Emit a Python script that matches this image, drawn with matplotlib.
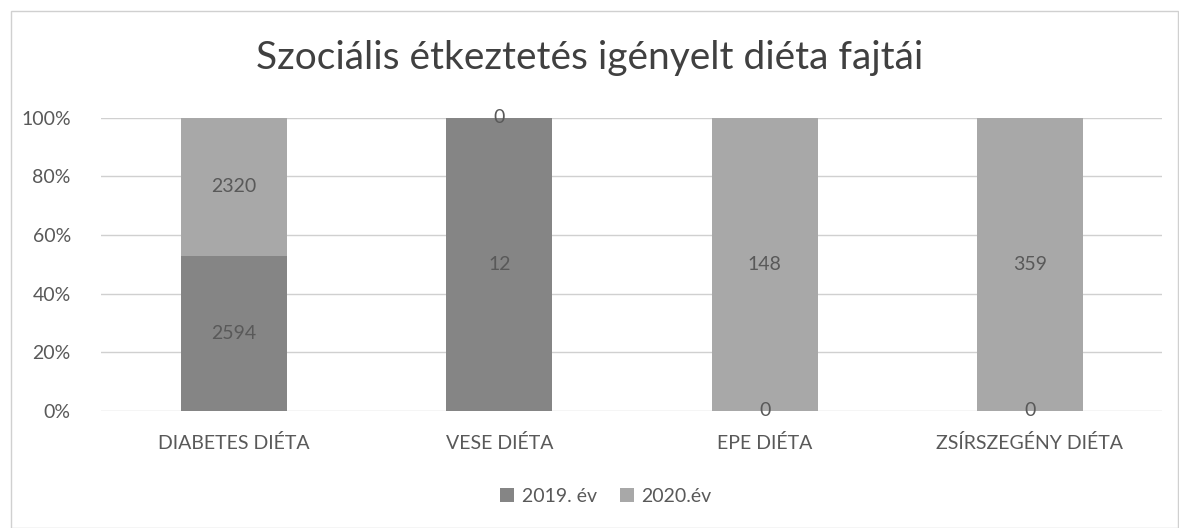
import numpy as np
import matplotlib.pyplot as plt
from matplotlib.patches import Rectangle

categories = ['DIABETES DIÉTA', 'VESE DIÉTA', 'EPE DIÉTA', 'ZSÍRSZEGÉNY DIÉTA']
series_names = ['2019. év', '2020.év']
vals_2019 = np.array([2594, 12, 0, 0])
vals_2020 = np.array([2320, 0, 148, 359])

col_2019 = '#858585'
col_2020 = '#a8a8a8'
txt = '#595959'

plt.rcParams['font.family'] = ['Lato', 'DejaVu Sans']

total = vals_2019 + vals_2020
p19 = vals_2019 / total * 100
p20 = vals_2020 / total * 100

fig = plt.figure(figsize=(11.79, 5.28), dpi=100)
ax = fig.add_axes([0.086, 0.222, 0.900, 0.555])

x = np.arange(len(categories))
b1 = ax.bar(x, p19, width=0.4, color=col_2019, label=series_names[0], zorder=2)
b2 = ax.bar(x, p20, width=0.4, bottom=p19, color=col_2020, label=series_names[1], zorder=2)

for i in range(len(categories)):
    ax.text(x[i], p19[i] / 2, str(vals_2019[i]), ha='center', va='center',
            fontsize=14, color=txt, zorder=3)
    ax.text(x[i], p19[i] + p20[i] / 2, str(vals_2020[i]), ha='center', va='center',
            fontsize=14, color=txt, zorder=3)

ax.set_xlim(-0.5, 3.5)
ax.set_ylim(0, 100)
ax.set_yticks(np.arange(0, 101, 20))
ax.set_yticklabels([str(v) + '%' for v in range(0, 101, 20)])
ax.set_xticks(x)
ax.set_xticklabels(categories)
ax.yaxis.grid(True, color='#d0d0d0', linewidth=1, zorder=0)
ax.tick_params(axis='both', length=0, labelsize=14, colors=txt)
ax.tick_params(axis='x', pad=17)
ax.tick_params(axis='y', pad=22)
for s in ax.spines.values():
    s.set_visible(False)

fig.suptitle('Szociális étkeztetés igényelt diéta fajtái', y=0.925, fontsize=28, color='#404040')
fig.legend(loc='center', bbox_to_anchor=(0.514, 0.06), ncol=2, frameon=False,
           fontsize=14, labelcolor=txt, handlelength=0.7, handleheight=0.7,
           handletextpad=0.4, columnspacing=1.2)

fig.patches.append(Rectangle((0.009, 0.0), 0.99, 0.98, transform=fig.transFigure,
                             fill=False, edgecolor='#d0d0d0', linewidth=1))

plt.savefig('out.png', dpi=100)
